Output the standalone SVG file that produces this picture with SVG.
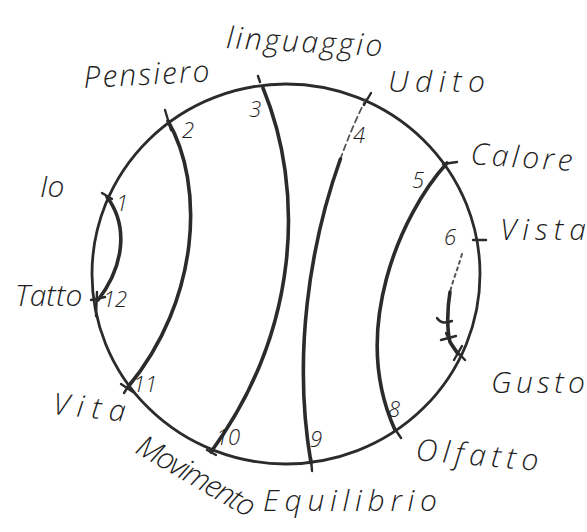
<svg xmlns="http://www.w3.org/2000/svg" width="587" height="532" viewBox="0 0 587 532">
<style>
.bg{fill:#ffffff}
.ring{fill:none;stroke:#2b2b2b;stroke-width:2.8}
.thick{fill:none;stroke:#2b2b2b;stroke-width:3.6;stroke-linecap:round}
.dash{fill:none;stroke:#555;stroke-width:1.8;stroke-dasharray:6 4;stroke-linecap:round}
.dot{fill:none;stroke:#555;stroke-width:2;stroke-dasharray:3 4;stroke-linecap:round}
.tick{fill:none;stroke:#2b2b2b;stroke-width:2.4;stroke-linecap:round}
.lbl{font-family:"Open Sans","Liberation Sans",sans-serif;font-weight:300;font-style:italic;fill:#1e1e1e;font-size:30px}
.num{font-family:"Open Sans","Liberation Sans",sans-serif;font-weight:300;font-style:italic;fill:#1e1e1e;font-size:22px}
</style>
<rect class="bg" x="0" y="0" width="587" height="532"/>
<ellipse id="circle" class="ring" cx="286" cy="274" rx="194" ry="190"/>
<g id="connectors">
  <path class="thick" d="M168,121 C205,185 200,300 128,387"/>
  <path class="thick" d="M263,88 C305,190 300,330 211,452"/>
  <path class="dash" d="M366,99 C356.8,117.2 348.2,137.4 340.4,159"/>
  <path class="thick" d="M340.4,159 C309.4,245.7 292.6,356.6 311,463"/>
  <path class="thick" d="M447,163 C400,215 350,330 395,430"/>
  <path class="thick" d="M107,197 C128,225 125,265 98,300"/>
  <path class="dot" d="M462,254 C458,268 453,280 450,292"/>
  <path class="thick" d="M450,292 C447,310 447,330 450,342 L458,354"/>
</g>
<g id="p1"><path class="tick" d="M102,193 L112,199"/><text class="num" x="116" y="211" font-size="17">1</text><text class="lbl" x="40" y="197" font-size="38">Io</text></g>
<g id="p2"><path class="tick" d="M165,110 L171,130"/><text class="num" x="182" y="138" font-size="24">2</text><text class="lbl" x="84" y="88" font-size="30" textLength="126" lengthAdjust="spacing" transform="rotate(-3 84 88)">Pensiero</text></g>
<g id="p3"><path class="tick" d="M258,76 L260,82"/><text class="num" x="249" y="117" font-size="26">3</text><text class="lbl" x="226" y="48" font-size="32" textLength="156" lengthAdjust="spacing" transform="rotate(3 226 48)">linguaggio</text></g>
<g id="p4"><path class="tick" d="M371,93 L364,105"/><text class="num" x="353" y="143" font-size="28">4</text><text class="lbl" x="388" y="92" font-size="34" textLength="97" lengthAdjust="spacing">Udito</text></g>
<g id="p5"><path class="tick" d="M443,164 L457,162"/><text class="num" x="412" y="188" font-size="28">5</text><text class="lbl" x="470" y="164" font-size="32" textLength="102" lengthAdjust="spacing" transform="rotate(4 470 164)">Calore</text></g>
<g id="p6"><path class="tick" d="M473,240 L486,240"/><text class="num" x="444" y="245" font-size="26">6</text><text class="lbl" x="500" y="240" font-size="32" textLength="86" lengthAdjust="spacing">Vista</text></g>
<g id="p7"><path class="tick" d="M452,346 L465,360 M462,346 L454,360"/><path class="tick" d="M437,318 C441,324 446,323 452,321 M441,340 L456,336 M446,333 L451,344"/><text class="lbl" x="491" y="393" font-size="34" textLength="94" lengthAdjust="spacing">Gusto</text></g>
<g id="p8"><path class="tick" d="M393,426 L401,438"/><text class="num" x="388" y="417" font-size="28">8</text><text class="lbl" x="415" y="460" font-size="32" textLength="123" lengthAdjust="spacing" transform="rotate(5 415 460)">Olfatto</text></g>
<g id="p9"><path class="tick" d="M311,458 L312,471"/><text class="num" x="310" y="447" font-size="24">9</text><text class="lbl" x="263" y="511" font-size="32" textLength="174" lengthAdjust="spacing">Equilibrio</text></g>
<g id="p10"><path class="tick" d="M207,450 L216,455"/><text class="num" x="216" y="445" font-size="22">10</text><text class="lbl" x="134" y="452" font-size="27" textLength="132" lengthAdjust="spacing" transform="rotate(30 134 452)">Movimento</text></g>
<g id="p11"><path class="tick" d="M121,384 L133,392 M124,393 L131,382"/><text class="num" x="133" y="392" font-size="24">11</text><text class="lbl" x="52" y="414" font-size="34" textLength="73" lengthAdjust="spacing" transform="rotate(6 52 414)">Vita</text></g>
<g id="p12"><path class="tick" d="M91,300 L105,297 M97,292 L96,316"/><text class="num" x="103" y="307" font-size="24">12</text><text class="lbl" x="15" y="306" font-size="26">Tatto</text></g>
</svg>
